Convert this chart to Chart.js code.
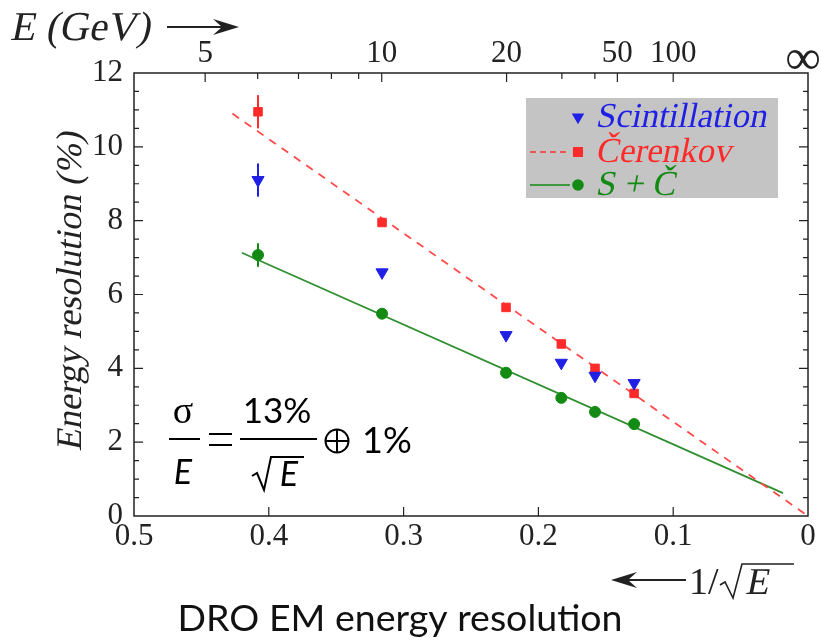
<!DOCTYPE html>
<html>
<head>
<meta charset="utf-8">
<script src="https://cdn.jsdelivr.net/npm/chart.js@4.4.1/dist/chart.umd.min.js"></script>
<style>
  html, body { margin: 0; padding: 0; background: #fff; }
  #wrap { width: 821px; height: 643px; }
</style>
</head>
<body>
<div id="wrap"><canvas id="chart" width="821" height="643"></canvas></div>
<script>
// --- dati ---
const energies = [6, 10, 20, 30, 40, 60];
const invSqrtE = [0.408, 0.316, 0.224, 0.183, 0.158, 0.129];
const scintillation = [9.1, 6.6, 4.9, 4.15, 3.8, 3.6];
const scintErr = [0.45, 0, 0, 0, 0, 0];
const cerenkov = [10.95, 7.95, 5.65, 4.66, 4.0, 3.32];
const cerenErr = [0.45, 0, 0, 0, 0, 0];
const combined = [7.07, 5.48, 3.88, 3.2, 2.82, 2.49];
const combErr = [0.32, 0, 0, 0, 0, 0];

// rette di fit
const cerenFitX = [0.427, 0];
const cerenFitY = [10.9, 0];
const combFitX = [0.42, 0.0185];
const combFitY = [7.13, 0.62];

// assi
const bottomTicks = [0.5, 0.4, 0.3, 0.2, 0.1, 0];
const yTicks = [0, 2, 4, 6, 8, 10, 12];
const topTickE = [5, 6, 7, 8, 9, 10, 20, 30, 40, 50, 100, Infinity];
const topTickLabels = ['5', '', '', '', '', '10', '20', '', '', '50', '100', '∞'];

const SERIF = "'Liberation Serif', serif";
const SANS = "Lato, 'Open Sans', sans-serif";
const BLUE = '#1f1fe6';
const RED = '#ff2a2a';
const GREEN = '#138a13';

const toPoints = (xs, ys) => xs.map((x, i) => ({ x: x, y: ys[i] }));

// il corsivo della Liberation Serif manca: serif inclinato a mano
function corsivo(ctx, text, x, y, size, align) {
    ctx.save();
    ctx.translate(x, y);
    ctx.transform(1, 0, -0.2, 1, 0, 0);
    ctx.font = size + 'px ' + SERIF;
    ctx.textAlign = align || 'left';
    ctx.textBaseline = 'middle';
    ctx.fillText(text, 0, 0);
    ctx.restore();
}

// barre d'errore
const errorBars = {
    id: 'errorBars',
    beforeDatasetsDraw(chart) {
        const { ctx, scales: { x, y } } = chart;
        const sets = [[scintillation, scintErr, BLUE], [cerenkov, cerenErr, RED], [combined, combErr, GREEN]];
        ctx.save();
        ctx.lineWidth = 2;
        sets.forEach(([vals, errs, col]) => {
            ctx.strokeStyle = col;
            vals.forEach((v, i) => {
                if (!errs[i]) return;
                const px = x.getPixelForValue(invSqrtE[i]);
                ctx.beginPath();
                ctx.moveTo(px, y.getPixelForValue(v - errs[i]));
                ctx.lineTo(px, y.getPixelForValue(v + errs[i]));
                ctx.stroke();
            });
        });
        ctx.restore();
    }
};

// cornice, tacche, legenda e testi
const decorazioni = {
    id: 'decorazioni',
    afterDraw(chart) {
        const { ctx, chartArea: a, scales } = chart;
        const x = scales.x, y = scales.y;
        ctx.save();

        // cornice
        ctx.strokeStyle = '#222';
        ctx.lineWidth = 1.5;
        ctx.strokeRect(a.left, a.top, a.right - a.left, a.bottom - a.top);

        // tacche verso l'interno
        ctx.lineWidth = 1.2;
        ctx.beginPath();
        bottomTicks.forEach(v => {
            const px = x.getPixelForValue(v);
            if (v === 0 || v === 0.5) return;
            ctx.moveTo(px, a.bottom); ctx.lineTo(px, a.bottom - 9);
        });
        topTickE.forEach((e, i) => {
            if (e === Infinity) return;
            const px = scales.xTop.getPixelForValue(1 / Math.sqrt(e));
            const len = topTickLabels[i] ? 9 : 6;
            ctx.moveTo(px, a.top); ctx.lineTo(px, a.top + len);
        });
        for (let v = 0.5; v < 12; v += 0.5) {
            const py = y.getPixelForValue(v);
            const len = yTicks.includes(v) ? 9 : 5;
            ctx.moveTo(a.left, py); ctx.lineTo(a.left + len, py);
            ctx.moveTo(a.right, py); ctx.lineTo(a.right - len, py);
        }
        ctx.stroke();

        // simbolo infinito sopra l'asse superiore
        ctx.fillStyle = '#222';
        ctx.font = '50px ' + SERIF;
        ctx.textAlign = 'center';
        ctx.textBaseline = 'middle';
        ctx.fillText(topTickLabels[topTickLabels.length - 1], scales.xTop.getPixelForValue(0) - 5, 61);

        // legenda
        ctx.fillStyle = '#c4c4c4';
        ctx.fillRect(526, 98, 252, 100);
        const rows = [
            { y: 117, text: 'Scintillation', col: BLUE, style: 'triangle', rot: 180, r: 6, line: null },
            { y: 152, text: 'Čerenkov', col: RED, style: 'rect', rot: 0, r: 6, line: [6, 4] },
            { y: 185, text: 'S + Č', col: GREEN, style: 'circle', rot: 0, r: 5, line: [] }
        ];
        rows.forEach(r => {
            if (r.line) {
                ctx.strokeStyle = r.col;
                ctx.lineWidth = 1.6;
                ctx.setLineDash(r.line);
                ctx.beginPath();
                ctx.moveTo(530, r.y); ctx.lineTo(570, r.y);
                ctx.stroke();
                ctx.setLineDash([]);
            }
            ctx.fillStyle = r.col;
            ctx.strokeStyle = r.col;
            Chart.helpers.drawPoint(ctx, { pointStyle: r.style, rotation: r.rot, radius: r.r, borderWidth: 1 }, 578, r.y);
            ctx.fillStyle = r.col;
            corsivo(ctx, r.text, 597, r.y + 1, 35);
        });

        // titolo asse y
        ctx.fillStyle = '#222';
        ctx.save();
        ctx.translate(72, 290);
        ctx.rotate(-Math.PI / 2);
        corsivo(ctx, 'Energy resolution (%)', 0, 0, 36, 'center');
        ctx.restore();

        // E (GeV) -->
        corsivo(ctx, 'E (GeV)', 12, 29, 41);
        ctx.strokeStyle = '#222';
        ctx.lineWidth = 2;
        ctx.beginPath();
        ctx.moveTo(167, 27); ctx.lineTo(232, 27);
        ctx.stroke();
        ctx.beginPath();
        ctx.moveTo(239, 27); ctx.lineTo(213, 19); ctx.lineTo(222, 27); ctx.lineTo(213, 35);
        ctx.closePath();
        ctx.fill();

        // <-- 1/sqrt(E)
        ctx.beginPath();
        ctx.moveTo(620, 580); ctx.lineTo(686, 580);
        ctx.stroke();
        ctx.beginPath();
        ctx.moveTo(611, 580); ctx.lineTo(637, 572); ctx.lineTo(628, 580); ctx.lineTo(637, 588);
        ctx.closePath();
        ctx.fill();
        ctx.font = '38px ' + SERIF;
        ctx.textAlign = 'left';
        ctx.textBaseline = 'middle';
        ctx.fillText('1/', 689, 584);
        ctx.lineWidth = 1.6;
        ctx.beginPath();
        ctx.moveTo(720, 585); ctx.lineTo(725, 582); ctx.lineTo(733, 598); ctx.lineTo(742, 564); ctx.lineTo(794, 564);
        ctx.stroke();
        corsivo(ctx, 'E', 747, 584, 38);

        // titolo in basso
        ctx.font = '37.5px ' + SANS;
        ctx.textAlign = 'center';
        ctx.textBaseline = 'middle';
        ctx.fillStyle = '#111';
        ctx.fillText('DRO EM energy resolution', 400, 619);

        // formula
        ctx.fillStyle = '#000';
        ctx.strokeStyle = '#000';
        ctx.font = '38px ' + SERIF;
        ctx.fillText('σ', 183, 413);
        ctx.font = 'italic 34px ' + SANS;
        ctx.fillText('E', 183, 473);
        ctx.lineWidth = 2;
        ctx.beginPath();
        ctx.moveTo(169, 439); ctx.lineTo(200, 439);
        ctx.moveTo(240, 439); ctx.lineTo(317, 439);
        ctx.moveTo(209, 434); ctx.lineTo(232, 434);
        ctx.moveTo(209, 445); ctx.lineTo(232, 445);
        ctx.stroke();
        ctx.font = '35px ' + SANS;
        ctx.fillText('13%', 277, 412);
        ctx.beginPath();
        ctx.moveTo(252, 476); ctx.lineTo(257, 473); ctx.lineTo(264, 490); ctx.lineTo(271, 457); ctx.lineTo(304, 457);
        ctx.stroke();
        ctx.font = 'italic 34px ' + SANS;
        ctx.fillText('E', 289, 475);
        ctx.beginPath();
        ctx.arc(337, 441, 11.5, 0, Math.PI * 2);
        ctx.moveTo(325.5, 441); ctx.lineTo(348.5, 441);
        ctx.moveTo(337, 429.5); ctx.lineTo(337, 452.5);
        ctx.stroke();
        ctx.font = '36px ' + SANS;
        ctx.textAlign = 'left';
        ctx.fillText('1%', 362, 441);

        ctx.restore();
    }
};

const tickFont = { family: SERIF, size: 31 };

new Chart(document.getElementById('chart'), {
    type: 'scatter',
    data: {
        datasets: [
            {
                label: 'Scintillation',
                data: toPoints(invSqrtE, scintillation),
                pointStyle: 'triangle',
                pointRotation: 180,
                pointRadius: 7,
                backgroundColor: BLUE,
                borderColor: BLUE
            },
            {
                label: 'Čerenkov',
                data: toPoints(invSqrtE, cerenkov),
                pointStyle: 'rect',
                pointRadius: 6,
                backgroundColor: RED,
                borderColor: RED
            },
            {
                label: 'S + Č',
                data: toPoints(invSqrtE, combined),
                pointStyle: 'circle',
                pointRadius: 5.5,
                backgroundColor: GREEN,
                borderColor: GREEN
            },
            {
                label: 'fit Čerenkov',
                data: toPoints(cerenFitX, cerenFitY),
                showLine: true,
                pointRadius: 0,
                borderColor: '#ff4a4a',
                borderWidth: 1.8,
                borderDash: [8, 7]
            },
            {
                label: 'fit S + Č',
                data: toPoints(combFitX, combFitY),
                showLine: true,
                pointRadius: 0,
                borderColor: '#2f8f2f',
                borderWidth: 1.8
            }
        ]
    },
    options: {
        responsive: false,
        animation: false,
        layout: { padding: 0 },
        plugins: { legend: { display: false }, tooltip: { enabled: false } },
        scales: {
            x: {
                type: 'linear',
                position: 'bottom',
                reverse: true,
                min: 0,
                max: 0.5,
                afterBuildTicks: s => { s.ticks = bottomTicks.map(v => ({ value: v })); },
                ticks: { font: tickFont, color: '#222', padding: 2, maxRotation: 0, autoSkip: false,
                    callback: v => String(Math.round(v * 10) / 10) },
                grid: { display: false, drawTicks: false },
                border: { display: false },
                afterFit: s => { s.height = 127; s.paddingLeft = 0; s.paddingRight = 0; }
            },
            xTop: {
                type: 'linear',
                position: 'top',
                reverse: true,
                min: 0,
                max: 0.5,
                afterBuildTicks: s => { s.ticks = topTickE.map(e => ({ value: 1 / Math.sqrt(e) })); },
                ticks: {
                    autoSkip: false,
                    maxRotation: 0,
                    padding: 1,
                    color: '#222',
                    font: tickFont,
                    // l'infinito viene disegnato a parte, piu' grande
                    callback: (v, i) => (topTickE[i] === Infinity ? '' : topTickLabels[i])
                },
                grid: { display: false, drawTicks: false },
                border: { display: false },
                afterFit: s => { s.height = 73; s.paddingLeft = 0; s.paddingRight = 0; }
            },
            y: {
                min: 0,
                max: 12,
                afterBuildTicks: s => { s.ticks = yTicks.map(v => ({ value: v })); },
                ticks: { font: tickFont, color: '#222', padding: 11 },
                grid: { display: false, drawTicks: false },
                border: { display: false },
                afterFit: s => { s.width = 134; }
            },
            yRight: {
                position: 'right',
                min: 0,
                max: 12,
                ticks: { display: false },
                grid: { display: false, drawTicks: false },
                border: { display: false },
                afterFit: s => { s.width = 13; }
            }
        }
    },
    plugins: [errorBars, decorazioni]
});
</script>
</body>
</html>
